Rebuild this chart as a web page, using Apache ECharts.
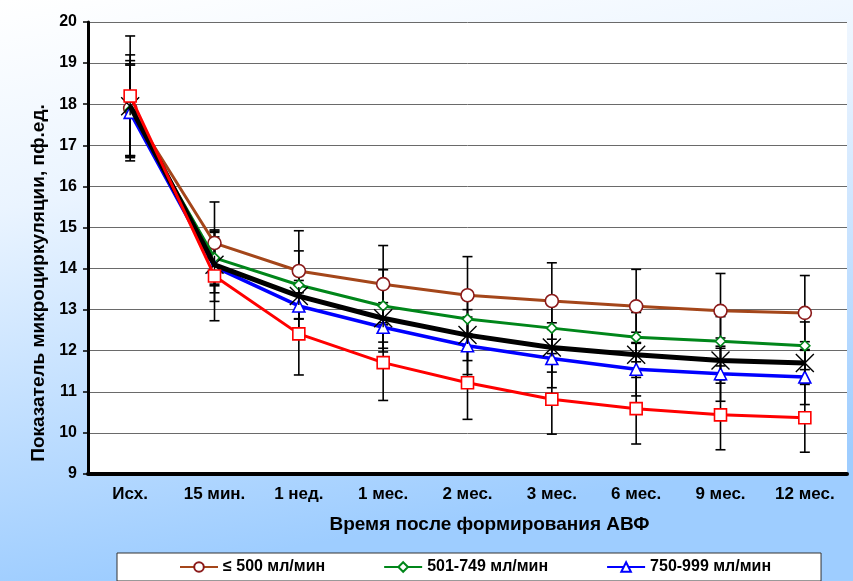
<!DOCTYPE html>
<html>
<head>
<meta charset="utf-8">
<script src="https://cdn.jsdelivr.net/npm/echarts@6/dist/echarts.min.js"></script>
<style>
  html, body { margin: 0; padding: 0; }
  #chart { width: 853px; height: 581px; }
</style>
</head>
<body>
<div id="chart"></div>
<script>
// Time points after AVF creation
const categories = ['Исх.', '15 мин.', '1 нед.', '1 мес.', '2 мес.', '3 мес.', '6 мес.', '9 мес.', '12 мес.'];

// Microcirculation index (perfusion units) by fistula blood flow group
const flowLe500   = [17.90, 14.62, 13.94, 13.62, 13.35, 13.21, 13.08, 12.97, 12.92];
const flow501_749 = [17.85, 14.26, 13.60, 13.09, 12.77, 12.55, 12.33, 12.23, 12.12];
const flow750_999 = [17.80, 14.04, 13.09, 12.57, 12.12, 11.81, 11.55, 11.44, 11.36];
const flowGe1000  = [18.20, 13.82, 12.41, 11.71, 11.22, 10.82, 10.59, 10.44, 10.37];
const flowAll     = [17.95, 14.09, 13.33, 12.79, 12.38, 12.08, 11.90, 11.76, 11.70];

// Standard deviations for each group
const sdLe500   = [1.16, 1.00, 0.98, 0.94, 0.94, 0.93, 0.90, 0.91, 0.91];
const sd501_749 = [1.10, 0.68, 0.83, 0.88, 0.65, 0.62, 0.60, 0.60, 0.58];
const sd750_999 = [1.18, 0.84, 0.62, 0.60, 0.70, 0.71, 0.65, 0.67, 0.67];
const sdGe1000  = [1.46, 1.09, 1.00, 0.92, 0.89, 0.85, 0.86, 0.85, 0.84];
const sdAll     = [1.25, 0.68, 0.55, 0.73, 0.62, 0.60, 0.55, 0.55, 0.52];

const yTicks = { min: 9, max: 20, step: 1 };

const FONT = "'Liberation Sans', Arial, sans-serif";

const groups = [
  { name: '≤ 500 мл/мин', data: flowLe500, sd: sdLe500, color: '#A4461A', border: '#8B1A1A', symbol: 'circle', size: 13, width: 3 },
  { name: '501-749 мл/мин', data: flow501_749, sd: sd501_749, color: '#00861A', border: '#00861A', symbol: 'diamond', size: 10, width: 3 },
  { name: '750-999 мл/мин', data: flow750_999, sd: sd750_999, color: '#0000FF', border: '#0000FF', symbol: 'triangle', size: 12, width: 3.5 },
  { name: 'Всего', data: flowAll, sd: sdAll, color: '#000000', border: '#000000', symbol: 'path://M0,0L10,10M10,0L0,10M5,0L5,10', size: 18, width: 5 },
  { name: '≥ 1000 мл/мин', data: flowGe1000, sd: sdGe1000, color: '#FF0000', border: '#FF0000', symbol: 'rect', size: 12, width: 3 }
];

// Vertical ±SD whiskers with caps, placed through the chart's own axes
function errorBarSeries(g) {
  return {
    type: 'custom',
    name: g.name + ' SD',
    z: 1,
    silent: true,
    data: g.data.map((v, i) => [i, v, g.sd[i]]),
    renderItem: function (params, api) {
      const i = api.value(0), v = api.value(1), sd = api.value(2);
      const top = api.coord([i, v + sd]);
      const bot = api.coord([i, v - sd]);
      const half = 5;
      const style = { stroke: '#000', lineWidth: 1.6 };
      return {
        type: 'group',
        children: [
          { type: 'line', shape: { x1: top[0], y1: top[1], x2: bot[0], y2: bot[1] }, style },
          { type: 'line', shape: { x1: top[0] - half, y1: top[1], x2: top[0] + half, y2: top[1] }, style },
          { type: 'line', shape: { x1: bot[0] - half, y1: bot[1], x2: bot[0] + half, y2: bot[1] }, style }
        ]
      };
    }
  };
}

function lineSeries(g, z) {
  const isStar = g.symbol.indexOf('path://') === 0;
  return {
    type: 'line',
    name: g.name,
    z: z,
    data: g.data,
    symbol: g.symbol,
    symbolSize: g.size,
    showAllSymbol: true,
    lineStyle: { color: g.color, width: g.width },
    itemStyle: {
      color: isStar ? 'transparent' : '#FFFFFF',
      borderColor: g.border,
      borderWidth: isStar ? 1.4 : 1.6
    },
    emphasis: { disabled: true },
    animation: false
  };
}

const series = [];
groups.forEach(g => series.push(errorBarSeries(g)));
groups.forEach((g, k) => series.push(lineSeries(g, 3 + k)));

const chart = echarts.init(document.getElementById('chart'), null, { renderer: 'canvas' });
chart.setOption({
  animation: false,
  backgroundColor: {
    type: 'linear', x: 0, y: 0, x2: 0.12, y2: 1,
    colorStops: [
      { offset: 0, color: '#FFFFFF' },
      { offset: 0.35, color: '#EAF4FF' },
      { offset: 1, color: '#9ECDFF' }
    ]
  },
  grid: {
    left: 88, right: 6, top: 22, bottom: 107,
    show: true, backgroundColor: '#FFFFFF', borderWidth: 0
  },
  legend: {
    data: groups.slice(0, 3).map(g => g.name),
    left: 117, top: 553,
    padding: [6, 50, 6, 62],
    itemGap: 58,
    itemWidth: 38, itemHeight: 12,
    backgroundColor: '#FFFFFF',
    borderColor: '#333333', borderWidth: 1, borderRadius: 0,
    textStyle: { fontFamily: FONT, fontWeight: 'bold', fontSize: 16, color: '#000' }
  },
  xAxis: {
    type: 'category',
    data: categories,
    boundaryGap: true,
    name: 'Время после формирования АВФ',
    nameLocation: 'middle',
    nameGap: 41,
    nameTextStyle: { fontFamily: FONT, fontWeight: 'bold', fontSize: 19, color: '#000', padding: [0, 0, 0, 44] },
    axisLine: { lineStyle: { color: '#000', width: 4 } },
    axisTick: { show: false },
    axisLabel: { interval: 0, fontFamily: FONT, fontWeight: 'bold', fontSize: 17, color: '#000', margin: 12 },
    splitLine: { show: false }
  },
  yAxis: {
    type: 'value',
    min: yTicks.min, max: yTicks.max, interval: yTicks.step,
    name: 'Показатель микроциркуляции, пф.ед.',
    nameLocation: 'middle',
    nameGap: 36,
    nameTextStyle: { fontFamily: FONT, fontWeight: 'bold', fontSize: 19, color: '#000', padding: [0, 70, 0, 0] },
    axisLine: { show: true, lineStyle: { color: '#000', width: 3 } },
    axisTick: { show: true, length: 5, lineStyle: { color: '#000', width: 1.5 } },
    axisLabel: { fontFamily: FONT, fontWeight: 'bold', fontSize: 16, color: '#000', margin: 11 },
    splitLine: { show: true, lineStyle: { color: '#6A6A6A', width: 1 } }
  },
  series: series
});
</script>
</body>
</html>
